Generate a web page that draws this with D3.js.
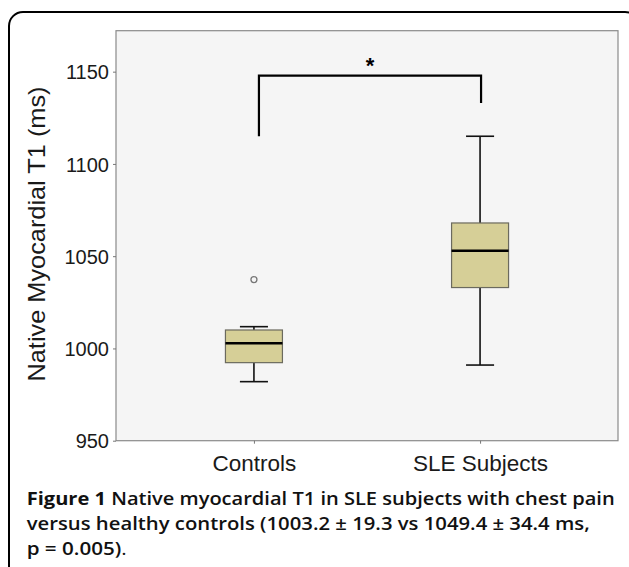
<!DOCTYPE html>
<html>
<head>
<meta charset="utf-8">
<script src="https://cdn.jsdelivr.net/npm/d3@7"></script>
<style>
  html, body { margin: 0; padding: 0; background: #fff; }
  svg { display: block; }
</style>
</head>
<body>
<svg id="chart" width="629" height="567"></svg>
<script>
// ---- data ----
const categories = ["Controls", "SLE Subjects"];
const whiskerLow = [982, 991];
const q1 = [992.3, 1033];
const medians = [1002.8, 1053];
const q3 = [1010, 1068];
const whiskerHigh = [1011.8, 1115];
const outliers = [[1037.3], []];
const yTicks = [950, 1000, 1050, 1100, 1150];
const yLabel = "Native Myocardial T1 (ms)";
const bracketLevels = [1115, 1147.8, 1133]; // left end, top, right end
const bracketLabel = "*";
const captionBold = "Figure 1";
const captionLines = [
  " Native myocardial T1 in SLE subjects with chest pain",
  "versus healthy controls (1003.2 \u00b1 19.3 vs 1049.4 \u00b1 34.4 ms,",
  "p = 0.005)"
];

// ---- layout ----
const svg = d3.select("#chart");
const plot = { left: 116, right: 618, top: 30.7, bottom: 440.7 };

// outer frame
svg.append("rect")
  .attr("x", 9).attr("y", 12).attr("width", 630).attr("height", 620)
  .attr("rx", 14).attr("ry", 14)
  .attr("fill", "#fff").attr("stroke", "#000").attr("stroke-width", 2);

const x = d3.scalePoint().domain(categories).range([plot.left, plot.right]).padding(0.61);
const y = d3.scaleLinear().domain([950, 1172.2]).range([plot.bottom, plot.top]);
const step = x.step();

// plot background
svg.append("rect")
  .attr("x", plot.left).attr("y", plot.top)
  .attr("width", plot.right - plot.left).attr("height", plot.bottom - plot.top)
  .attr("fill", "#f5f5f5").attr("stroke", "#8a8a8a").attr("stroke-width", 1.2);

// y axis
const yAxis = d3.axisLeft(y).tickValues(yTicks).tickSize(3).tickPadding(4).tickFormat(d3.format("d"));
const gy = svg.append("g").attr("transform", `translate(${plot.left},0)`).call(yAxis);
gy.select(".domain").remove();
gy.selectAll(".tick line").attr("stroke", "#777");
gy.selectAll(".tick text").attr("font-family", "Liberation Sans, Arial, sans-serif")
  .attr("font-size", 20).attr("fill", "#1a1a1a").attr("dy", "0.36em");

// x axis
const xAxis = d3.axisBottom(x).tickSize(3).tickPadding(6);
const gx = svg.append("g").attr("transform", `translate(0,${plot.bottom})`).call(xAxis);
gx.select(".domain").remove();
gx.selectAll(".tick line").attr("stroke", "#777");
gx.selectAll(".tick text").attr("font-family", "Liberation Sans, Arial, sans-serif")
  .attr("font-size", 22.5).attr("fill", "#1a1a1a").attr("dy", "0.95em");

// y label
svg.append("text")
  .attr("transform", `translate(45,234) rotate(-90)`)
  .attr("text-anchor", "middle")
  .attr("font-family", "Liberation Sans, Arial, sans-serif")
  .attr("font-size", 24).attr("fill", "#1a1a1a")
  .attr("textLength", 295).attr("lengthAdjust", "spacingAndGlyphs")
  .text(yLabel);

// boxes
const boxW = step * 0.252;
const capW = step * 0.124;
const g = svg.append("g");
categories.forEach((c, i) => {
  const cx = x(c);
  g.append("line").attr("x1", cx).attr("x2", cx).attr("y1", y(whiskerHigh[i])).attr("y2", y(q3[i]))
    .attr("stroke", "#111").attr("stroke-width", 1.6);
  g.append("line").attr("x1", cx).attr("x2", cx).attr("y1", y(q1[i])).attr("y2", y(whiskerLow[i]))
    .attr("stroke", "#111").attr("stroke-width", 1.6);
  g.append("line").attr("x1", cx - capW / 2).attr("x2", cx + capW / 2)
    .attr("y1", y(whiskerHigh[i])).attr("y2", y(whiskerHigh[i]))
    .attr("stroke", "#111").attr("stroke-width", 1.6);
  g.append("line").attr("x1", cx - capW / 2).attr("x2", cx + capW / 2)
    .attr("y1", y(whiskerLow[i])).attr("y2", y(whiskerLow[i]))
    .attr("stroke", "#111").attr("stroke-width", 1.6);
  g.append("rect").attr("x", cx - boxW / 2).attr("y", y(q3[i]))
    .attr("width", boxW).attr("height", y(q1[i]) - y(q3[i]))
    .attr("fill", "#d6cf97").attr("stroke", "#6b6a5e").attr("stroke-width", 1.2);
  g.append("line").attr("x1", cx - boxW / 2).attr("x2", cx + boxW / 2)
    .attr("y1", y(medians[i])).attr("y2", y(medians[i]))
    .attr("stroke", "#000").attr("stroke-width", 2.5);
  outliers[i].forEach(v => {
    g.append("circle").attr("cx", cx).attr("cy", y(v)).attr("r", 3)
      .attr("fill", "#f5f5f5").attr("stroke", "#777").attr("stroke-width", 1.3);
  });
});

// significance bracket
const bx1 = x(categories[0]) + 5, bx2 = x(categories[1]) + 1;
svg.append("path")
  .attr("d", d3.line()([[bx1, y(bracketLevels[0])], [bx1, y(bracketLevels[1])], [bx2, y(bracketLevels[1])], [bx2, y(bracketLevels[2])]]))
  .attr("fill", "none").attr("stroke", "#000").attr("stroke-width", 2.2);
svg.append("text")
  .attr("x", (bx1 + bx2) / 2).attr("y", y(bracketLevels[1]) - 3)
  .attr("text-anchor", "middle")
  .attr("font-family", "Liberation Sans, Arial, sans-serif")
  .attr("font-size", 22).attr("font-weight", "bold").attr("fill", "#000")
  .text(bracketLabel);

// caption
const capFont = "'Open Sans', 'Noto Sans', sans-serif";
const capSize = 18.5;
const c1 = svg.append("text").attr("x", 26.7).attr("y", 505)
  .attr("font-family", capFont).attr("font-size", capSize).attr("fill", "#111")
  .attr("textLength", 588).attr("lengthAdjust", "spacingAndGlyphs");
c1.append("tspan").attr("font-weight", 700).text(captionBold);
c1.append("tspan").attr("font-weight", 600).text(captionLines[0]);
svg.append("text").attr("x", 26.7).attr("y", 529.5)
  .attr("font-family", capFont).attr("font-size", capSize).attr("fill", "#111")
  .attr("font-weight", 600)
  .attr("textLength", 563).attr("lengthAdjust", "spacingAndGlyphs")
  .text(captionLines[1]);
const c3 = svg.append("text").attr("x", 26.7).attr("y", 555)
  .attr("font-family", capFont).attr("font-size", capSize).attr("fill", "#111")
  .attr("textLength", 100).attr("lengthAdjust", "spacingAndGlyphs");
c3.append("tspan").attr("font-weight", 600).text(captionLines[2]);
c3.append("tspan").attr("font-weight", 400).text(".");
</script>
</body>
</html>
